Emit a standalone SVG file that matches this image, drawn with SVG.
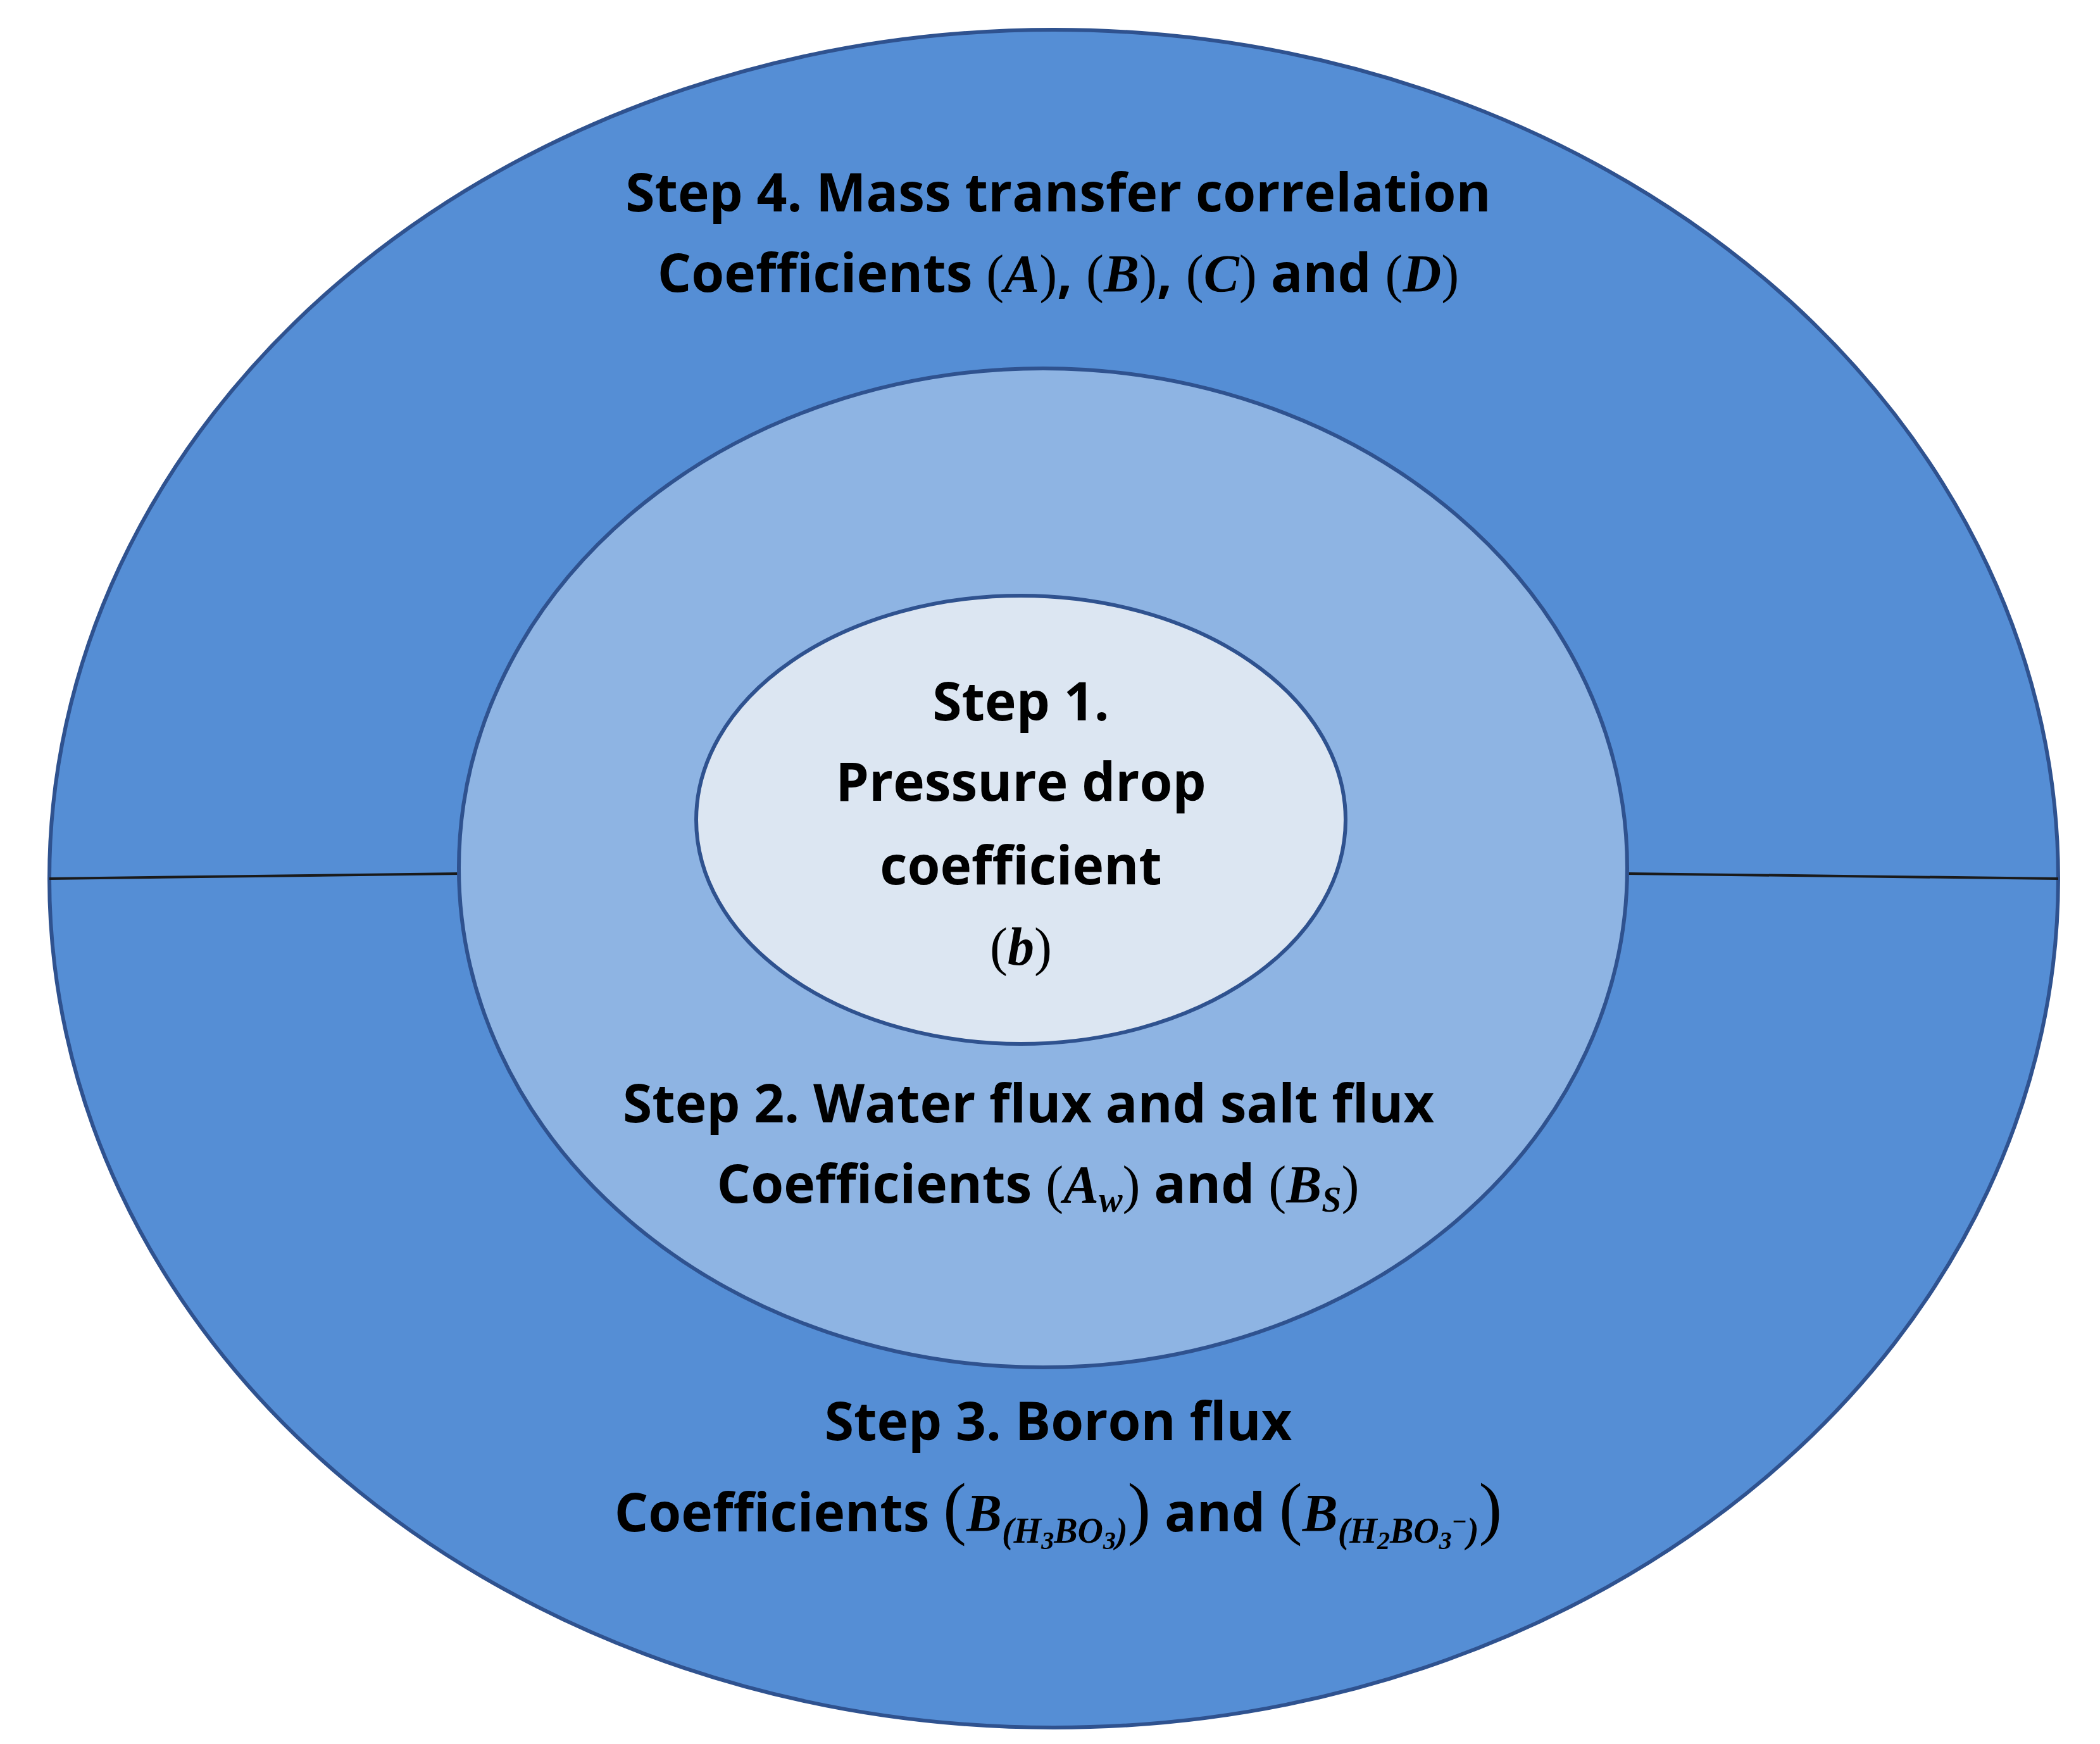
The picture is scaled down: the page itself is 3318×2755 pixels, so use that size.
<svg xmlns="http://www.w3.org/2000/svg" width="3318" height="2755" viewBox="0 0 3318 2755">
<style>
.t{font-family:"Open Sans","Liberation Sans",sans-serif;font-weight:bold;font-size:84px;fill:#000;text-anchor:middle}
.m{font-family:"Liberation Serif",serif;font-style:italic;font-weight:bold}
.p{font-family:"Liberation Serif",serif;font-weight:normal}
.e{stroke:#2F528F;stroke-width:6}
</style>
<rect width="3318" height="2755" fill="#fff"/>
<g id="step4"><ellipse class="e" cx="1665" cy="1388" rx="1587" ry="1341" fill="#558ED5"/>
<text class="t" x="1672" y="334">Step 4. Mass transfer correlation</text>
<text class="t" x="1672" y="461">Coefficients <tspan class="p">(</tspan><tspan class="m">A</tspan><tspan class="p">)</tspan>, <tspan class="p">(</tspan><tspan class="m">B</tspan><tspan class="p">)</tspan>, <tspan class="p">(</tspan><tspan class="m">C</tspan><tspan class="p">)</tspan> and <tspan class="p">(</tspan><tspan class="m">D</tspan><tspan class="p">)</tspan></text>
</g>
<g id="connectors"><line x1="78" y1="1388" x2="728" y2="1380" stroke="#1a1a1a" stroke-width="4"/><line x1="2571" y1="1380" x2="3252" y2="1388" stroke="#1a1a1a" stroke-width="4"/></g>
<g id="step3">
<text class="t" x="1672" y="2275">Step 3. Boron flux</text>
<text class="t" x="1672" y="2419">Coefficients <tspan class="p" font-size="110">(</tspan><tspan class="m">B</tspan><tspan class="m" font-size="56" dy="18">(H</tspan><tspan class="m" font-size="40" dy="10">3</tspan><tspan class="m" font-size="56" dy="-10">BO</tspan><tspan class="m" font-size="40" dy="10">3</tspan><tspan class="m" font-size="56" dy="-10">)</tspan><tspan class="p" font-size="110" dy="-18">)</tspan> and <tspan class="p" font-size="110">(</tspan><tspan class="m">B</tspan><tspan class="m" font-size="56" dy="18">(H</tspan><tspan class="m" font-size="40" dy="10">2</tspan><tspan class="m" font-size="56" dy="-10">BO</tspan><tspan class="m" font-size="40" dy="10">3</tspan><tspan class="m" font-size="40" dy="-30">−</tspan><tspan class="m" font-size="56" dy="20">)</tspan><tspan class="p" font-size="110" dy="-18">)</tspan></text>
</g>
<g id="step2"><ellipse class="e" cx="1648" cy="1371" rx="923" ry="789" fill="#8EB4E3"/>
<text class="t" x="1625" y="1773">Step 2. Water flux and salt flux</text>
<text class="t" x="1640" y="1900">Coefficients <tspan class="p">(</tspan><tspan class="m">A</tspan><tspan class="m" font-size="56" dy="14">w</tspan><tspan class="p" dy="-14">)</tspan> and <tspan class="p">(</tspan><tspan class="m">B</tspan><tspan class="m" font-size="56" dy="14">S</tspan><tspan class="p" dy="-14">)</tspan></text>
</g>
<g id="step1"><ellipse class="e" cx="1613" cy="1295" rx="513" ry="354" fill="#DCE6F2"/>
<text class="t" x="1613" y="1138">Step 1.</text>
<text class="t" x="1613" y="1265">Pressure drop</text>
<text class="t" x="1613" y="1397">coefficient</text>
<text class="t" x="1613" y="1524"><tspan class="p">(</tspan><tspan class="m">b</tspan><tspan class="p">)</tspan></text>
</g>
</svg>
